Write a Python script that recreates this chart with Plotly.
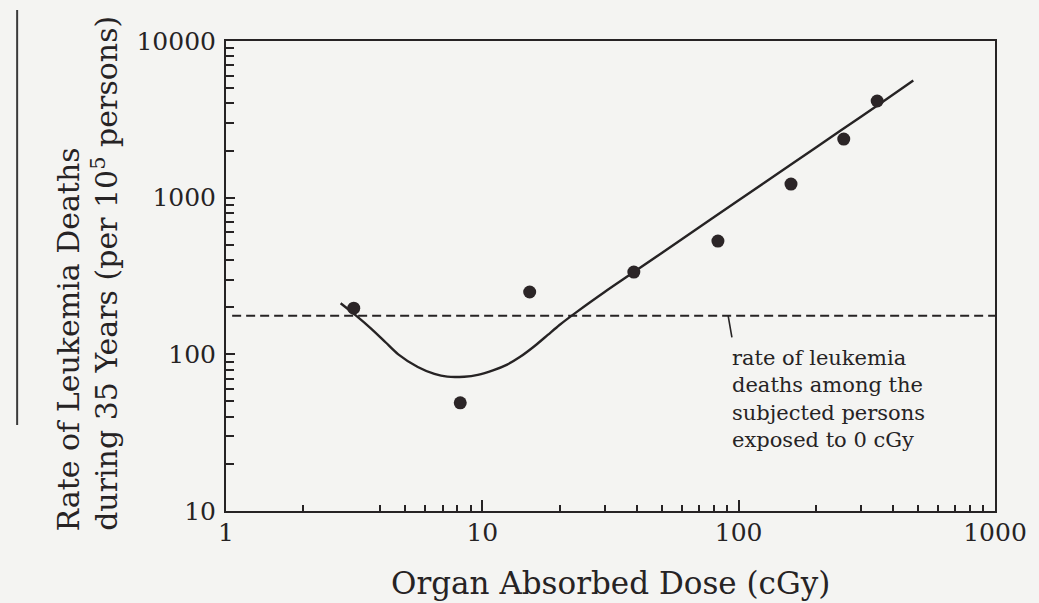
import math
import plotly.graph_objects as go

# ---- data ----
dose_points = [3.15, 8.2, 15.3, 39, 83, 160, 257, 347]
rate_points = [197, 49, 250, 335, 528, 1222, 2366, 4140]

curve_dose = [2.8, 3.2, 3.7, 4.2, 4.7, 5.6, 6.5, 7.3, 8.5, 9.6, 11, 12.5, 14, 16, 18, 20, 23.3,
              30, 39, 60, 100, 160, 250, 350, 480]
curve_rate = [212, 178, 145, 119, 100, 83, 75, 72, 72, 74, 79, 86, 96, 113, 133, 154, 186,
              250, 335, 543, 962, 1627, 2681, 3910, 5590]

baseline_rate = 176  # rate at 0 cGy (dashed line)

x_tickvals = [1, 10, 100, 1000]
x_ticktext = ["1", "10", "100", "1000"]
y_tickvals = [10, 100, 1000, 10000]
y_ticktext = ["10", "100", "1000", "10000"]
x_minor = [2, 4, 5, 6, 7, 8, 9] + [20, 30, 40, 50, 60, 70, 80, 90] + [200, 300, 400, 500, 600, 700, 800, 900]
y_minor = [m * d for d in (10, 100, 1000) for m in range(2, 10)]

annotation_lines = ["rate of leukemia", "deaths among the", "subjected persons", "exposed to 0 cGy"]
annotation_anchor_dose = 91
annotation_text_dose = 92.5
annotation_text_rate = 52

INK = "#262324"
BG = "#f4f4f2"
FONT = "DejaVu Serif"

fig = go.Figure()

fig.add_trace(go.Scatter(
    x=curve_dose, y=curve_rate, mode="lines",
    line=dict(color=INK, width=2.4, shape="spline", smoothing=0.8),
    hoverinfo="skip", showlegend=False))

fig.add_trace(go.Scatter(
    x=dose_points, y=rate_points, mode="markers",
    marker=dict(color="#2b2527", size=13),
    showlegend=False))

# dashed baseline
fig.add_shape(type="line", xref="paper", yref="y", x0=0.008, x1=1.0,
              y0=baseline_rate, y1=baseline_rate,
              line=dict(color=INK, width=2, dash="9px,5px"))

# annotation leader + text
fig.add_annotation(x=math.log10(annotation_anchor_dose), y=math.log10(baseline_rate),
                   xref="x", yref="y", ax=4, ay=23, showarrow=True, arrowhead=0,
                   arrowwidth=1.6, arrowcolor=INK, text="")
fig.add_annotation(x=math.log10(annotation_text_dose), y=math.log10(annotation_text_rate),
                   xref="x", yref="y",
                   text="<br>".join(annotation_lines), showarrow=False,
                   xanchor="left", yanchor="middle", align="left",
                   font=dict(family=FONT, size=21, color=INK))

# axis titles
fig.add_annotation(x=-0.205, y=-0.047, xref="paper", yref="paper",
                   text="Rate of Leukemia Deaths", textangle=-90, showarrow=False,
                   xanchor="center", yanchor="bottom",
                   font=dict(family=FONT, size=30, color=INK))
fig.add_annotation(x=-0.157, y=-0.047, xref="paper", yref="paper",
                   text="during 35 Years (per 10<sup>5</sup> persons)", textangle=-90, showarrow=False,
                   xanchor="center", yanchor="bottom",
                   font=dict(family=FONT, size=30, color=INK))
fig.add_annotation(x=0.5, y=-0.153, xref="paper", yref="paper",
                   text="Organ Absorbed Dose (cGy)", showarrow=False,
                   xanchor="center", yanchor="middle",
                   font=dict(family=FONT, size=31, color=INK))

# page ruling line at far left
fig.add_shape(type="line", xref="paper", yref="paper", x0=-0.2716, x1=-0.2716,
              y0=0.183, y1=1.066, line=dict(color="#3a3a3a", width=2))

fig.update_xaxes(type="log", range=[0, 3], tickvals=x_tickvals, ticktext=x_ticktext,
                 ticks="inside", ticklen=11, tickwidth=1.8, tickcolor=INK,
                 minor=dict(tickvals=x_minor, ticks="inside", ticklen=6, tickwidth=1.6,
                            tickcolor=INK, showgrid=False),
                 showline=True, linecolor=INK, linewidth=2, mirror=True,
                 showgrid=False, zeroline=False, ticklabelstandoff=-2,
                 ticklabeloverflow="allow",
                 tickfont=dict(family=FONT, size=25, color=INK))
fig.update_yaxes(type="log", range=[1, 4], tickvals=y_tickvals, ticktext=y_ticktext,
                 ticks="inside", ticklen=9, tickwidth=1.8, tickcolor=INK,
                 minor=dict(tickvals=y_minor, ticks="inside", ticklen=8, tickwidth=1.6,
                            tickcolor=INK, showgrid=False),
                 showline=True, linecolor=INK, linewidth=2, mirror=True,
                 showgrid=False, zeroline=False, ticklabelstandoff=3,
                 tickfont=dict(family=FONT, size=25, color=INK))

fig.update_layout(width=1039, height=603,
                  margin=dict(l=226, r=32, t=41, b=92),
                  paper_bgcolor=BG, plot_bgcolor=BG, showlegend=False)

fig.write_html("out.html", config={"displayModeBar": False},
               post_script="document.body.style.margin='0';document.body.style.overflow='hidden';document.body.style.background='#f4f4f2';")
